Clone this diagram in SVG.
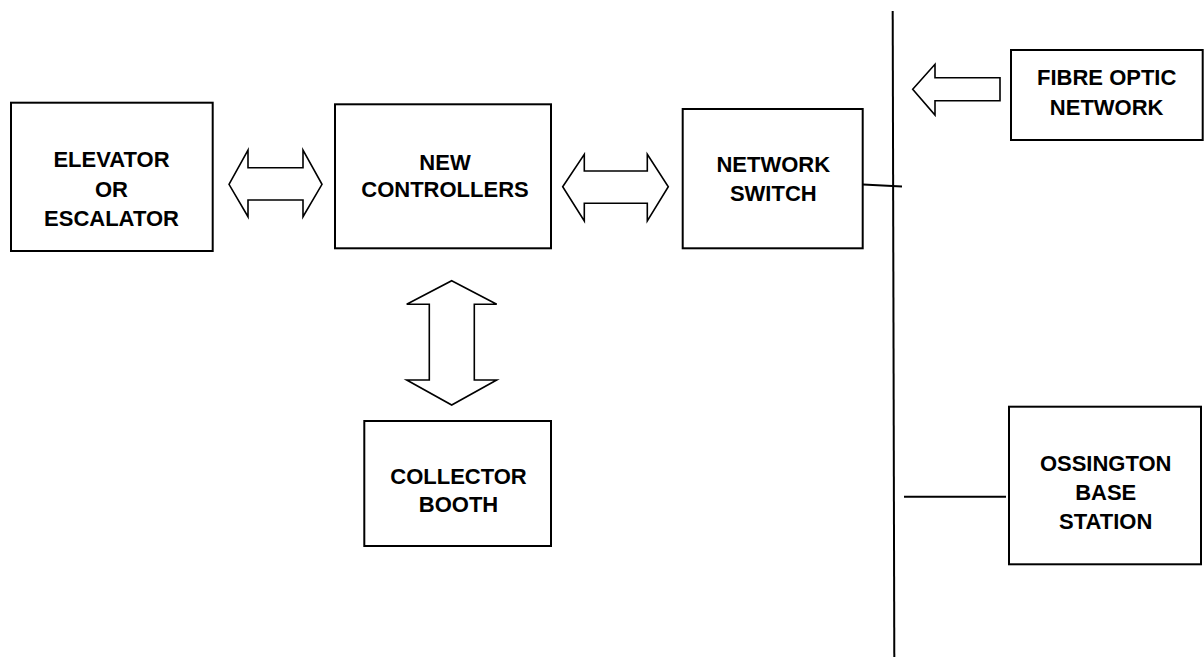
<svg xmlns="http://www.w3.org/2000/svg" width="1204" height="658" viewBox="0 0 1204 658">
<style>
.box{fill:#fff;stroke:#000;stroke-width:2}
.arr{fill:#fff;stroke:#000;stroke-width:1.6;stroke-linejoin:miter}
.ln{stroke:#000;stroke-width:2;fill:none}
text{font-family:"Liberation Sans",Arial,sans-serif;font-weight:bold;font-size:22px;text-anchor:middle;fill:#000}
</style>
<rect width="1204" height="658" fill="#fff"/>
<g id="connectors">
<line class="ln" x1="892.7" y1="11" x2="894.3" y2="657"/>
<line class="ln" x1="863" y1="184.5" x2="902" y2="186.5"/>
<line class="ln" x1="904" y1="496.7" x2="1006" y2="496.7"/>
<polygon class="arr" points="229,184.3 248,150 248,167.7 303,167.7 303,150 322,184.3 303,216.7 303,200 248,200 248,216.7"/>
<polygon class="arr" points="562.7,186.7 584.3,154.3 584.3,171 647.3,171 647.3,154.3 668.3,186.7 647.3,221 647.3,203.3 584.3,203.3 584.3,221"/>
<polygon class="arr" points="451.7,280.7 496.7,304.3 474.3,304.3 474.3,380 496.7,380 451.7,405 406.7,380 429.3,380 429.3,304.3 406.7,304.3"/>
<polygon class="arr" points="912.7,89.3 935,64.3 935,77.7 1000,77.7 1000,100.7 935,100.7 935,115"/>
</g>
<g id="elevator">
<rect class="box" x="11" y="102.7" width="201.7" height="148.3"/>
<text x="111.5" y="167">ELEVATOR</text>
<text x="111.5" y="196.6">OR</text>
<text x="111.5" y="225.6">ESCALATOR</text>
</g>
<g id="controllers">
<rect class="box" x="335" y="104.3" width="216" height="144"/>
<text x="445" y="169.6">NEW</text>
<text x="445" y="197">CONTROLLERS</text>
</g>
<g id="switch">
<rect class="box" x="682.7" y="109" width="180" height="139.3"/>
<text x="773.3" y="172.2">NETWORK</text>
<text x="773.3" y="201.2">SWITCH</text>
</g>
<g id="booth">
<rect class="box" x="364.3" y="421" width="186.7" height="125"/>
<text x="458.5" y="483.9">COLLECTOR</text>
<text x="458.5" y="512.2">BOOTH</text>
</g>
<g id="fibre">
<rect class="box" x="1011" y="50" width="191.7" height="90"/>
<text x="1106.7" y="84.6">FIBRE OPTIC</text>
<text x="1106.7" y="114.6">NETWORK</text>
</g>
<g id="ossington">
<rect class="box" x="1009" y="406.7" width="192" height="157.6"/>
<text x="1105.7" y="470.6">OSSINGTON</text>
<text x="1105.7" y="499.6">BASE</text>
<text x="1105.7" y="528.6">STATION</text>
</g>
</svg>
